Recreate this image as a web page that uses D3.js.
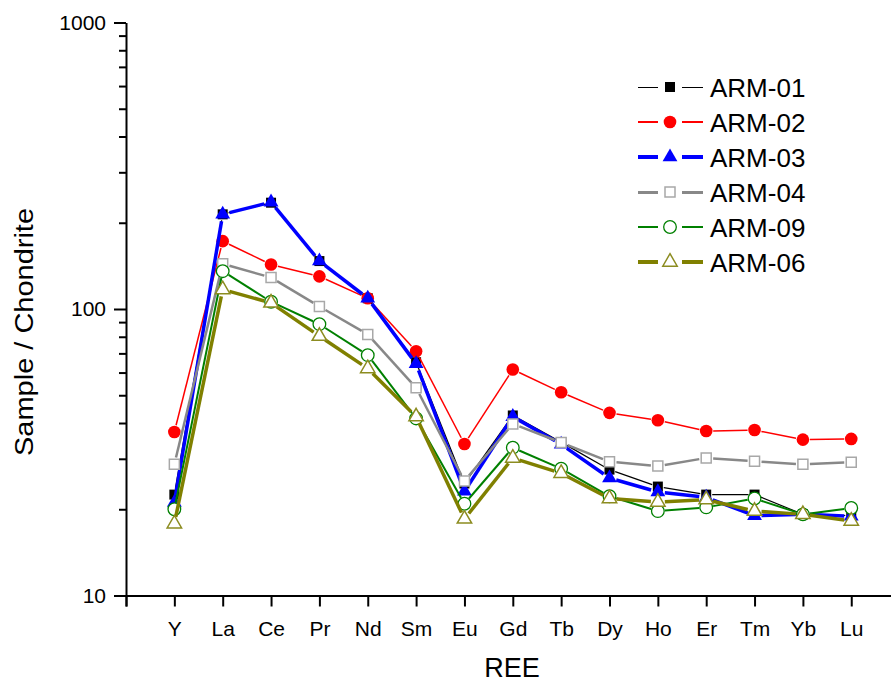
<!DOCTYPE html>
<html>
<head>
<meta charset="utf-8">
<script src="https://cdn.jsdelivr.net/npm/d3@7"></script>
<style>
  body { margin: 0; background: #fff; }
  svg { display: block; font-family: "Liberation Sans", Arial, sans-serif; }
</style>
</head>
<body>
<div id="main"></div>
<script>
// categories on the x axis
const elements = ['Y', 'La', 'Ce', 'Pr', 'Nd', 'Sm', 'Eu', 'Gd', 'Tb', 'Dy', 'Ho', 'Er', 'Tm', 'Yb', 'Lu'];

// sample / chondrite values
const arm01 = [22.5, 214, 235, 147, 109, 65.2, 24.6, 42.5, 34.3, 27.5, 24.0, 22.5, 22.5, 19.2, 19.0];
const arm02 = [37.2, 172.5, 143, 130, 109, 71.2, 33.8, 61.5, 51.2, 43.4, 40.9, 37.5, 37.8, 35.0, 35.2];
const arm03 = [21.1, 214, 236, 147, 109, 64.4, 23.1, 42.1, 33.7, 25.7, 23.0, 22.0, 19.0, 19.2, 18.9];
const arm04 = [28.7, 143.8, 128.8, 102, 81.5, 53.1, 25.1, 39.7, 34.2, 29.3, 28.3, 30.2, 29.4, 28.7, 29.2];
const arm09 = [20.0, 135.5, 106, 88.5, 69, 41.5, 20.9, 32.8, 27.7, 22.2, 19.7, 20.3, 21.8, 19.2, 20.2];
const arm06 = [17.8, 117, 105, 80.4, 62, 42.1, 18.5, 30.2, 26.7, 21.8, 21.2, 21.6, 19.7, 19.2, 18.2];

const yMajorTicks = [10, 100, 1000];

const width = 891, height = 684;

// plotting styles per series (drawn in this order)
const series = [
    { name: 'ARM-01', values: arm01, line: '#000000', lw: 1.2, shape: d3.symbolSquare,   size: 100, fill: '#000000', stroke: 'none',    gap: 6 },
    { name: 'ARM-02', values: arm02, line: '#ff0000', lw: 1.5, shape: d3.symbolCircle,   size: 125, fill: '#ff0000', stroke: 'none',    gap: 7 },
    { name: 'ARM-03', values: arm03, line: '#0000ff', lw: 3.5, shape: d3.symbolTriangle, size: 95,  fill: '#0000ff', stroke: 'none',    gap: 7 },
    { name: 'ARM-04', values: arm04, line: '#888888', lw: 2.5, shape: d3.symbolSquare,   size: 100, fill: '#ffffff', stroke: '#a8a8a8', sw: 1.5, gap: 7 },
    { name: 'ARM-09', values: arm09, line: '#008000', lw: 2,   shape: d3.symbolCircle,   size: 125, fill: '#ffffff', stroke: '#008000', sw: 1.3, gap: 7 },
    { name: 'ARM-06', values: arm06, line: '#808000', lw: 3.5, shape: d3.symbolTriangle, size: 90,  fill: '#ffffff', stroke: '#8c8c20', sw: 1.5, gap: 7 }
];

const svg = d3.select('#main')
    .append('svg')
    .attr('width', width)
    .attr('height', height);

// index -1 sits on the y axis, one step left of 'Y'
const xScale = d3.scaleLinear()
    .domain([-1, 15])
    .range([126, 126 + 16 * 48.35]);

const yScale = d3.scaleLog()
    .domain([10, 1000])
    .range([595.5, 22.5]);

// y axis with log minor ticks
const yTicks = [];
[10, 100].forEach(dec => d3.range(1, 10).forEach(k => yTicks.push(dec * k)));
yTicks.push(1000);

const yAxis = svg.append('g')
    .attr('transform', `translate(${xScale(-1)},0)`)
    .call(d3.axisLeft(yScale)
        .tickValues(yTicks)
        .tickSizeOuter(0)
        .tickPadding(6)
        .tickFormat(d => yMajorTicks.includes(d) ? d : ''));
yAxis.selectAll('.tick line')
    .attr('x2', d => yMajorTicks.includes(d) ? -12 : -7)
    .attr('stroke-width', 2);
yAxis.selectAll('.tick text')
    .attr('x', -20)
    .attr('font-size', 21)
    .attr('font-family', '"Liberation Sans", Arial, sans-serif')
    .attr('fill', '#000');
yAxis.select('.domain').attr('stroke-width', 2);

// x axis, categorical labels
const xAxis = svg.append('g')
    .attr('transform', `translate(0,${yScale(10)})`)
    .call(d3.axisBottom(xScale)
        .tickValues(d3.range(-1, 16))
        .tickSizeOuter(0)
        .tickSize(11)
        .tickPadding(15)
        .tickFormat(d => elements[d] || ''));
xAxis.selectAll('.tick line').attr('stroke-width', 2);
xAxis.selectAll('.tick text')
    .attr('font-size', 21)
    .attr('font-family', '"Liberation Sans", Arial, sans-serif')
    .attr('fill', '#000');
xAxis.select('.domain').attr('stroke-width', 2);

// axis titles
svg.append('text')
    .attr('x', 512)
    .attr('y', 677)
    .attr('text-anchor', 'middle')
    .attr('font-size', 27)
    .text('REE');

svg.append('text')
    .attr('transform', 'translate(33,332) rotate(-90)')
    .attr('text-anchor', 'middle')
    .attr('font-size', 26)
    .attr('textLength', 248)
    .attr('lengthAdjust', 'spacingAndGlyphs')
    .text('Sample / Chondrite');

// line segments with small gaps round the symbols, like the original
function drawSeries(s) {
    const g = svg.append('g');
    const pts = s.values.map((v, i) => [xScale(i), yScale(v)]);
    for (let i = 0; i < pts.length - 1; i++) {
        const [x0, y0] = pts[i];
        const [x1, y1] = pts[i + 1];
        const len = Math.hypot(x1 - x0, y1 - y0);
        if (len <= 2 * s.gap) continue;
        const ux = (x1 - x0) / len, uy = (y1 - y0) / len;
        g.append('line')
            .attr('x1', x0 + ux * s.gap).attr('y1', y0 + uy * s.gap)
            .attr('x2', x1 - ux * s.gap).attr('y2', y1 - uy * s.gap)
            .attr('stroke', s.line)
            .attr('stroke-width', s.lw);
    }
    g.selectAll('path.marker')
        .data(pts)
        .enter()
        .append('path')
        .attr('class', 'marker')
        .attr('transform', d => `translate(${d[0]},${d[1]})`)
        .attr('d', d3.symbol().type(s.shape).size(s.size))
        .attr('fill', s.fill)
        .attr('stroke', s.stroke)
        .attr('stroke-width', s.sw || 0);
}

series.forEach(drawSeries);

// legend
const legend = svg.append('g');
series.forEach((s, i) => {
    const cy = 87 + i * 35;
    const row = legend.append('g');
    [[638, 658], [682, 703]].forEach(([a, b]) => {
        row.append('line')
            .attr('x1', a).attr('x2', b).attr('y1', cy).attr('y2', cy)
            .attr('stroke', s.line).attr('stroke-width', Math.max(1, Math.round(s.lw)))
            .attr('shape-rendering', 'crispEdges');
    });
    row.append('path')
        .attr('transform', `translate(670,${cy})`)
        .attr('d', d3.symbol().type(s.shape).size(s.size))
        .attr('fill', s.fill)
        .attr('stroke', s.stroke)
        .attr('stroke-width', s.sw || 0);
    row.append('text')
        .attr('x', 710)
        .attr('y', cy + 9.5)
        .attr('font-size', 26)
        .text(s.name);
});
</script>
</body>
</html>
